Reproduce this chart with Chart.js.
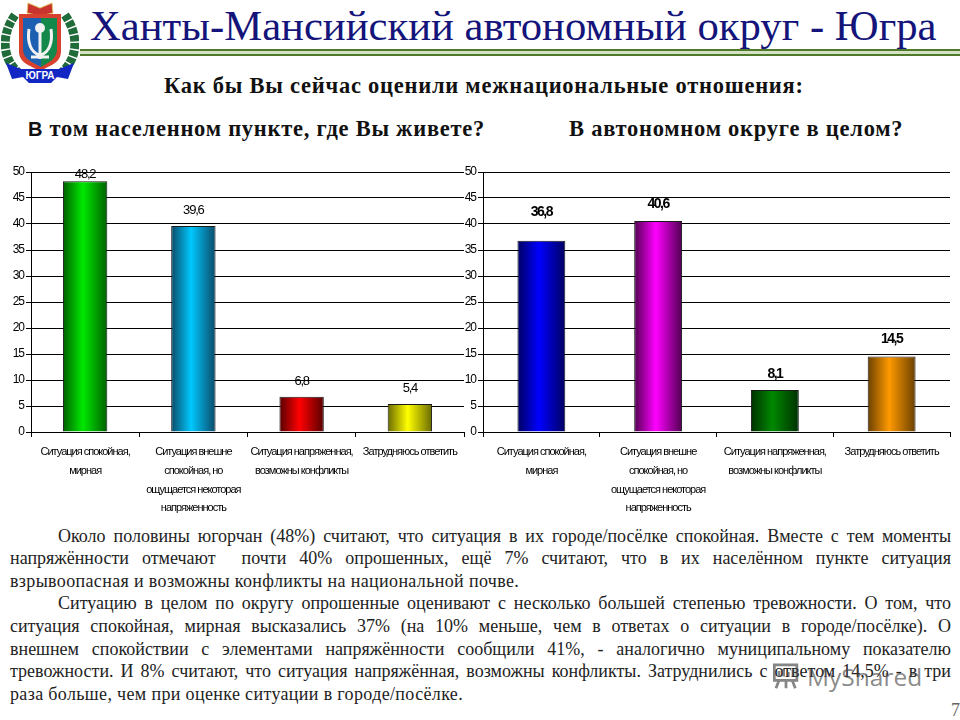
<!DOCTYPE html>
<html lang="ru">
<head>
<meta charset="utf-8">
<title>Ханты-Мансийский автономный округ - Югра</title>
<script src="https://cdn.jsdelivr.net/npm/chart.js@4"></script>
<style>
    html, body { margin: 0; padding: 0; background: #fff; }
    body { position: relative; width: 960px; height: 720px; overflow: hidden; font-family: "Liberation Serif", serif; color: #111; }
    .abs { position: absolute; white-space: nowrap; }
    .sub { font-size: 22.5px; line-height: 24px; font-weight: bold; letter-spacing: 0.75px; }
    canvas { position: absolute; }
    .line { position: absolute; left: 10px; width: 941px; height: 23px; line-height: 23px; font-size: 18px; color: #222; white-space: normal; text-align: justify; text-align-last: justify; }
    .line.first { left: 58px; width: 893px; }
    .line.last { text-align-last: left; letter-spacing: 0.35px; }
    .rule { position: absolute; left: 80px; width: 880px; }
</style>
</head>
<body>

<svg class="abs" style="left:1px;top:1px" width="78" height="88" viewBox="0 0 78 88">
    <path d="M14 14 C0 34 0 58 20 74" fill="none" stroke="#1f6b3a" stroke-width="9" stroke-dasharray="6 1.5"/>
    <path d="M64 14 C78 34 78 58 58 74" fill="none" stroke="#1f6b3a" stroke-width="9" stroke-dasharray="6 1.5"/>
    <path d="M26 12 L27 2 L39 7 L51 2 L52 12 L39 15Z" fill="#c9352e" stroke="#e2c66a"/>
    <path d="M18 13 H60 V50 C60 62 50 64 39 70 C28 64 18 62 18 50Z" fill="#d8402f"/>
    <path d="M22 17 H40 V66 C31 61 22 58 22 48Z" fill="#1d5fb0"/>
    <path d="M40 17 H56 V48 C56 58 48 61 40 66Z" fill="#13884a"/>
    <path d="M28 28 C26 42 30 52 39 54 C48 52 52 42 50 28 M39 30 V58 M30 56 H48" fill="none" stroke="#f2f2f2" stroke-width="3"/>
    <circle cx="39" cy="27" r="5" fill="#f2f2f2"/>
    <path d="M5 62 L20 68 H58 L73 62 L67 78 L56 76 L50 82 H28 L22 76 L11 78Z" fill="#1226c4"/>
    <text x="39" y="78" text-anchor="middle" font-family="Liberation Sans" font-size="10" font-weight="bold" fill="#fff">ЮГРА</text>
</svg>

<div class="abs" style="left:90px;top:4px;font-size:42.7px;line-height:44px;color:#14147a">Ханты-Мансийский автономный округ - Югра</div>
<div class="rule" style="top:49px;height:2px;background:#4f7a2c"></div>
<div class="rule" style="top:51px;height:3px;background:#d6e2c4"></div>
<div class="rule" style="top:54px;height:2px;background:#4f7a2c"></div>

<div class="abs sub" style="left:164px;top:74px">Как бы Вы сейчас оценили межнациональные отношения:</div>
<div class="abs sub" style="left:28px;top:117px"><span style="font-family:'Liberation Sans';font-size:20px">В</span> том населенном пункте, где Вы живете?</div>
<div class="abs sub" style="left:569px;top:117px">В автономном округе в целом?</div>

<canvas id="chartCity" width="466" height="360" style="left:0;top:160px"></canvas>
<canvas id="chartRegion" width="494" height="360" style="left:458px;top:160px"></canvas>

<div class="line first" style="top:525px">Около половины югорчан (48%) считают, что ситуация в их городе/посёлке спокойная. Вместе с тем моменты</div>
<div class="line" style="top:547px">напряжённости отмечают &nbsp;почти 40% опрошенных, ещё 7% считают, что в их населённом пункте ситуация</div>
<div class="line last" style="top:570px">взрывоопасная и возможны конфликты на национальной почве.</div>
<div class="line first" style="top:592px">Ситуацию в целом по округу опрошенные оценивают с несколько большей степенью тревожности. О том, что</div>
<div class="line" style="top:615px">ситуация спокойная, мирная высказались 37% (на 10% меньше, чем в ответах о ситуации в городе/посёлке). О</div>
<div class="line" style="top:638px">внешнем спокойствии с элементами напряжённости сообщили 41%, - аналогично муниципальному показателю</div>
<div class="line" style="top:660px">тревожности. И 8% считают, что ситуация напряжённая, возможны конфликты. Затруднились с ответом 14,5% - в три</div>
<div class="line last" style="top:683px">раза больше, чем при оценке ситуации в городе/посёлке.</div>

<svg class="abs" style="left:772px;top:659px;opacity:.65" width="28" height="32" viewBox="0 0 36 36">
    <path d="M3 5 H32 V25 H3Z M9 25 L5 35 M18 25 V35 M26 25 L30 35" fill="none" stroke="#444" stroke-width="3.5"/>
    <path d="M9 20 V13 M15 20 V10 M21 20 V14 M27 20 V11" stroke="#444" stroke-width="3.5"/>
</svg>
<div class="abs" style="left:807px;top:658px;font-family:'Open Sans';font-size:24.5px;line-height:38px;color:rgba(70,70,70,.65)">MyShared</div>
<div class="abs" style="left:951px;top:700px;font-size:18px;line-height:20px;color:#666">7</div>

<script>
const categories = [
    ['Ситуация спокойная,', 'мирная'],
    ['Ситуация внешне', 'спокойная, но', 'ощущается некоторая', 'напряженность'],
    ['Ситуация напряженная,', 'возможны конфликты'],
    'Затрудняюсь ответить'
];
const cityValues = [48.2, 39.6, 6.8, 5.4];
const regionValues = [36.8, 40.6, 8.1, 14.5];

const cityColors = [['#006000', '#00e800'], ['#0b4a68', '#00c8ff'], ['#560000', '#ff0000'], ['#6a6a00', '#ffff00']];
const regionColors = [['#000060', '#0000ff'], ['#500050', '#ff00ff'], ['#003000', '#008800'], ['#6a4000', '#ff9900']];

// distance from bar top to the value label, px
const cityGaps = [7, 16, 15, 15];
const regionGaps = [28, 17, 16, 17];

const barShare = 0.41;

// no narrow font installed, so squeeze the chart text a bit
const tightText = {
    id: 'tightText',
    beforeDraw(chart) {
        chart.ctx.letterSpacing = '-1px';
    }
};

const valueLabels = {
    id: 'valueLabels',
    afterDatasetsDraw(chart, args, opts) {
        const ctx = chart.ctx;
        const y = chart.scales.y;
        const x = chart.scales.x;
        ctx.save();
        ctx.font = opts.weight + ' ' + opts.size + 'px "Liberation Sans"';
        ctx.letterSpacing = opts.spacing;
        ctx.fillStyle = '#000';
        ctx.textAlign = 'center';
        ctx.textBaseline = 'middle';
        chart.data.datasets[0].data.forEach(function(v, i) {
            const text = String(v).replace('.', ',');
            ctx.fillText(text, x.getPixelForValue(i), y.getPixelForValue(v) - opts.gaps[i]);
        });
        ctx.restore();
    }
};

function barGradient(colors) {
    return function(c) {
        const chart = c.chart;
        if (!chart.chartArea || c.dataIndex === undefined) return colors[0][1];
        const x = chart.scales.x;
        const mid = x.getPixelForValue(c.dataIndex);
        const half = x.width / 4 * barShare / 2;
        const g = chart.ctx.createLinearGradient(mid - half, 0, mid + half, 0);
        g.addColorStop(0, colors[c.dataIndex][0]);
        g.addColorStop(0.45, colors[c.dataIndex][1]);
        g.addColorStop(1, colors[c.dataIndex][0]);
        return g;
    };
}

function makeChart(id, values, colors, gaps, axisWidth, labelWeight, labelSize, labelSpacing) {
    return new Chart(document.getElementById(id), {
        type: 'bar',
        data: {
            labels: categories,
            datasets: [{
                data: values,
                backgroundColor: barGradient(colors),
                borderColor: '#1a1a1a',
                borderWidth: 1,
                barPercentage: barShare,
                categoryPercentage: 1
            }]
        },
        plugins: [tightText, valueLabels],
        options: {
            responsive: false,
            animation: false,
            layout: { padding: { top: 12, right: 2, left: 0, bottom: 0 } },
            plugins: {
                legend: { display: false },
                tooltip: { enabled: false },
                valueLabels: { gaps: gaps, weight: labelWeight, size: labelSize, spacing: labelSpacing }
            },
            scales: {
                x: {
                    afterFit: function(s) {
                        s.height = 88;
                        s.paddingLeft = 0;
                        s.paddingRight = 0;
                    },
                    border: { color: '#000' },
                    grid: { drawOnChartArea: false, color: '#000', tickLength: 5 },
                    ticks: {
                        autoSkip: false,
                        maxRotation: 0,
                        minRotation: 0,
                        padding: 6,
                        color: '#000',
                        font: { family: '"Liberation Sans"', size: 11, lineHeight: '18.7px' }
                    }
                },
                y: {
                    min: 0,
                    max: 50,
                    afterFit: function(s) { s.width = axisWidth; },
                    border: { color: '#000' },
                    grid: { color: '#000', tickLength: 5 },
                    ticks: {
                        stepSize: 5,
                        padding: 2,
                        color: '#000',
                        font: { family: '"Liberation Sans"', size: 12 }
                    }
                }
            }
        }
    });
}

makeChart('chartCity', cityValues, cityColors, cityGaps, 31, 'normal', 13, '-1.2px');
makeChart('chartRegion', regionValues, regionColors, regionGaps, 25, 'bold', 14, '-1.5px');
</script>
</body>
</html>
